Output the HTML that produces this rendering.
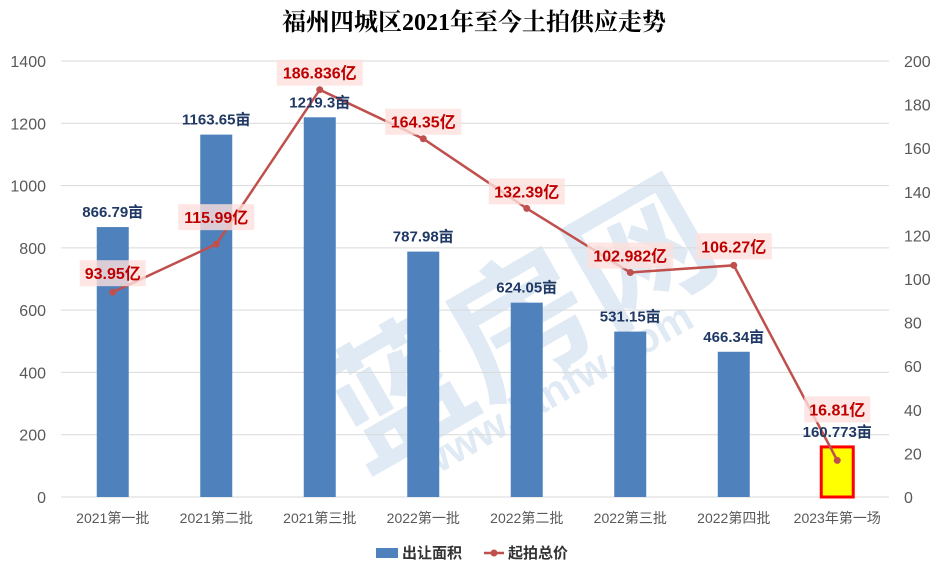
<!DOCTYPE html>
<html><head><meta charset="utf-8"><style>
body{margin:0;background:#fff;font-family:"Liberation Sans","Noto Sans CJK SC",sans-serif}
</style></head><body>
<svg id="c" width="949" height="574" xmlns="http://www.w3.org/2000/svg" style="font-family:'Liberation Sans','Noto Sans CJK SC',sans-serif">
<text x="474" y="30" text-anchor="middle" font-size="24" font-weight="bold" fill="#000" style="font-family:'Liberation Serif','Noto Serif CJK SC',serif">福州四城区2021年至今土拍供应走势</text>
<g id="wm" opacity="0.14" fill="#2f6fb5" font-weight="bold">
<text x="290" y="400" font-size="140" transform="rotate(-30 460 300)">蓝房网</text>
<text x="340" y="440" font-size="42" transform="rotate(-30 460 300)">www.lanfw.com</text>
</g>
<g id="grid"></g><g id="bars"></g><g id="line"></g><g id="labels"></g>
<g>
<rect x="376" y="548" width="22" height="10" fill="#4f81bd"/>
<text x="402" y="558" font-size="15" font-weight="bold" fill="#333">出让面积</text>
<line x1="484" y1="553" x2="504" y2="553" stroke="#c0504d" stroke-width="2.5"/>
<circle cx="494" cy="553" r="3.5" fill="#c0504d"/>
<text x="508" y="558" font-size="15" font-weight="bold" fill="#333">起拍总价</text>
</g>
</svg>
<script>
const categories=["2021第一批","2021第二批","2021第三批","2022第一批","2022第二批","2022第三批","2022第四批","2023年第一场"];
const areaValues=[866.79,1163.65,1219.3,787.98,624.05,531.15,466.34,160.773];
const priceValues=[93.95,115.99,186.836,164.35,132.39,102.982,106.27,16.81];
const areaLabels=["866.79亩","1163.65亩","1219.3亩","787.98亩","624.05亩","531.15亩","466.34亩","160.773亩"];
const priceLabels=["93.95亿","115.99亿","186.836亿","164.35亿","132.39亿","102.982亿","106.27亿","16.81亿"];
const leftTicks=[0,200,400,600,800,1000,1200,1400];
const rightTicks=[0,20,40,60,80,100,120,140,160,180,200];
const NS="http://www.w3.org/2000/svg";
const X0=61,X1=889,Y0=497,Y1=61;
const yL=v=>Y0-(v/1400)*(Y0-Y1);
const yR=v=>Y0-(v/200)*(Y0-Y1);
const step=(X1-X0)/categories.length;
const xC=i=>X0+step*(i+0.5);
function mk(tag,attrs,parent){const e=document.createElementNS(NS,tag);for(const k in attrs)e.setAttribute(k,attrs[k]);document.getElementById(parent).appendChild(e);return e;}
leftTicks.forEach(t=>{
 const l=mk('line',{x1:X0,x2:X1,y1:yL(t),y2:yL(t),stroke:'#d9d9d9','stroke-width':1},'grid');
 
 
 const tx=mk('text',{x:46,y:yL(t)+6,'text-anchor':'end','font-size':16,fill:'#595959'},'grid');
 tx.textContent=t;
 
 
});
rightTicks.forEach(t=>{
 const tx=mk('text',{x:904,y:yR(t)+6,'font-size':16,fill:'#595959'},'grid');
 tx.textContent=t;
 
 
});
categories.forEach((c,i)=>{
 const tx=mk('text',{x:xC(i),y:523,'text-anchor':'middle','font-size':14,fill:'#595959'},'grid');
 tx.textContent=c;
 
 
});
const bw=32;
areaValues.forEach((v,i)=>{
 const last=i===areaValues.length-1;
 const r=mk('rect',{x:xC(i)-bw/2,y:yL(v),width:bw,height:Y0-yL(v),fill:last?'#ffff00':'#4f81bd',stroke:last?'#ff0000':'none','stroke-width':last?3:0},'bars');
 
 
 const tx=mk('text',{x:xC(i),y:yL(v)-10,'text-anchor':'middle','font-size':15,'font-weight':'bold',fill:'#1f3864'},'labels');
 tx.textContent=areaLabels[i];
 
 
});
const pts=priceValues.map((v,i)=>xC(i)+','+yR(v)).join(' ');
const pl=mk('polyline',{points:pts,fill:'none',stroke:'#c0504d','stroke-width':2.5},'line');


const offs=[[0,-20],[0,-28],[0,-18],[0,-18],[0,-18],[0,-18],[0,-20],[0,-52]];
priceValues.forEach((v,i)=>{
 const c=mk('circle',{cx:xC(i),cy:yR(v),r:3.5,fill:'#c0504d'},'line');
 
 
 const lx=xC(i)+offs[i][0],ly=yR(v)+offs[i][1];
 const w=priceLabels[i].length*10+6;
 const bg=mk('rect',{x:lx-w/2,y:ly-12,width:w,height:26,fill:'#fde0dc',opacity:0.8},'labels');
 
 
 const tx=mk('text',{x:lx,y:ly+7,'text-anchor':'middle','font-size':16,'font-weight':'bold',fill:'#c00000'},'labels');
 tx.textContent=priceLabels[i];
 
 
});
</script>
</body></html>
